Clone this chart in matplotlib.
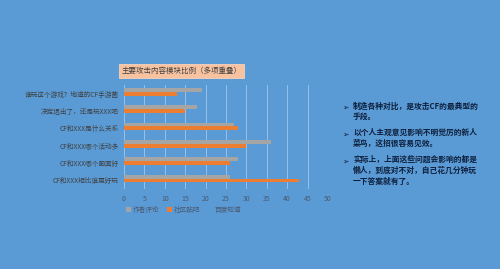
import matplotlib
matplotlib.use('Agg')
import matplotlib.pyplot as plt
import numpy as np

plt.rcParams['font.family'] = ['Noto Sans CJK SC', 'DejaVu Sans']

# data
categories = ['谁玩这个游戏？地道的CF手游菌', '决定退出了，还是玩XXX吧', 'CF和XXX是什么关系',
              'CF和XXX哪个活动多', 'CF和XXX哪个画面好', 'CF和XXX相比谁更好玩']
series_names = ['作者评论', '社区贴吧', '百度知道']
author_vals = [19, 18, 27, 36, 28, 26]
tieba_vals = [13, 15, 28, 30, 26, 43]
baidu_vals = [0, 0, 0, 0, 0, 0]
x_ticks = [0, 5, 10, 15, 20, 25, 30, 35, 40, 45, 50]

bullets = ['制造各种对比，是攻击CF的最典型的\n手段。',
           '以个人主观意见影响不明觉厉的新人\n菜鸟，这招很容易见效。',
           '实际上，上面这些问题会影响的都是\n懒人，到底对不对，自己花几分钟玩\n一下答案就有了。']

BG = '#5B9BD5'
fig = plt.figure(figsize=(5, 2.69), dpi=100, facecolor=BG)
ax = fig.add_axes([0.248, 0.297, 0.408, 0.387])
ax.set_facecolor(BG)

y = np.arange(len(categories))
h = 0.22
ax.barh(y - h, author_vals, height=h, color='#A5A5A5', label=series_names[0])
ax.barh(y, tieba_vals, height=h, color='#ED7D31', label=series_names[1])
ax.barh(y + h, baidu_vals, height=h, color=BG, label=series_names[2])

ax.set_ylim(len(categories) - 0.5, -0.5)
ax.set_xlim(0, 50)
ax.set_xticks(x_ticks)
ax.set_yticks(y)
ax.set_yticklabels(categories, fontsize=4.8, color='#404040')
ax.tick_params(axis='x', labelsize=5, colors='#4a5a70', length=0, pad=4)
ax.tick_params(axis='y', length=0, pad=4)
ax.grid(axis='x', color='#a3c5ea', linewidth=0.6)
ax.set_axisbelow(True)
for s in ax.spines.values():
    s.set_visible(False)

leg = ax.legend(loc='upper left', bbox_to_anchor=(-0.02, -0.1), ncol=3, frameon=False,
                fontsize=4.8, handlelength=0.7, handleheight=0.7, columnspacing=1.2,
                handletextpad=0.3)
for t in leg.get_texts():
    t.set_color('#4a5a70')

# title box
fig.text(0.243, 0.736, '主要攻击内容模块比例（多项重叠）', fontsize=5.4, color='#404040',
         va='center', ha='left',
         bbox=dict(boxstyle='square,pad=0.35', facecolor='#F6C2A0', edgecolor='#F9D3BA',
                   linewidth=0.6))

# bullet text on the right
y_pos = [0.619, 0.519, 0.419]
for yy, txt in zip(y_pos, bullets):
    fig.text(0.684, yy, '➢', fontsize=5.5, color='#0d1f3c', va='top', ha='left',
             fontweight='bold')
    fig.text(0.706, yy + 0.004, txt, fontsize=5.6, color='#0d1f3c', va='top', ha='left',
             fontweight='bold', linespacing=1.25)

fig.savefig('out.png', dpi=100, facecolor=BG)
